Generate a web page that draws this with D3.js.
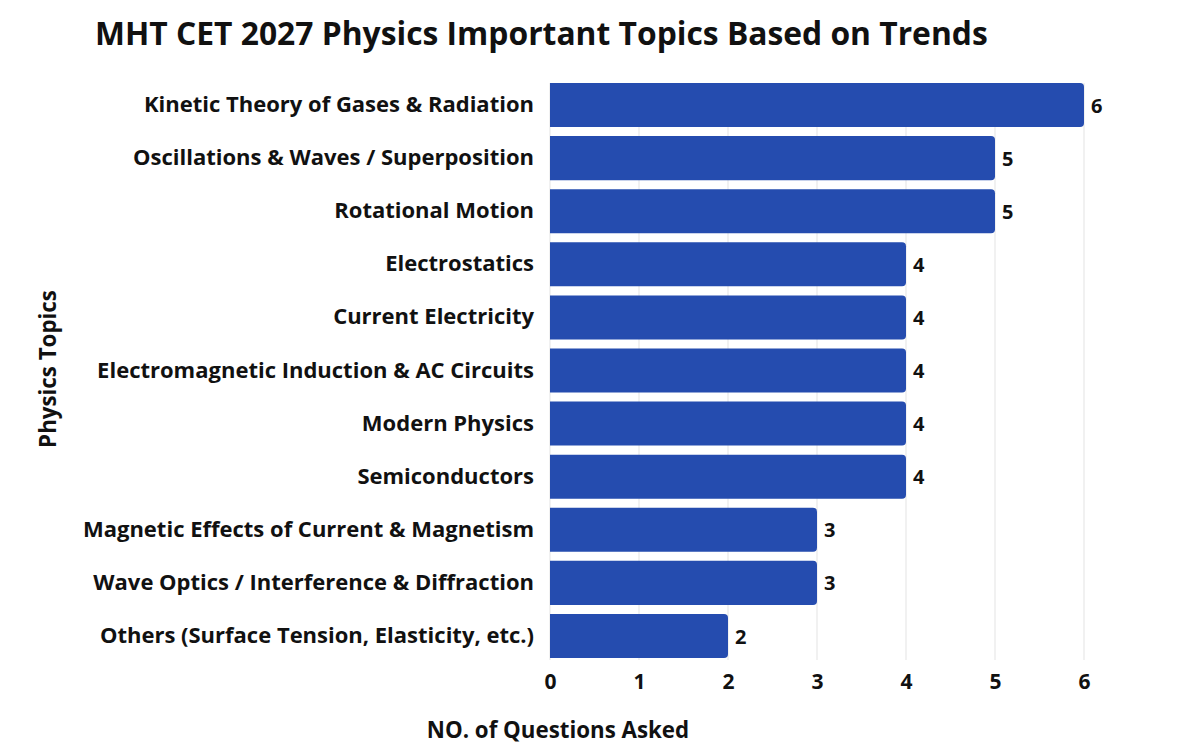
<!DOCTYPE html>
<html>
<head>
<meta charset="utf-8">
<script src="https://cdn.jsdelivr.net/npm/d3@7"></script>
<style>
  body { margin: 0; background: #fff; }
  text { font-family: "Open Sans", "Noto Sans", sans-serif; font-weight: 700; fill: #111; }
</style>
</head>
<body>
<svg id="chart"></svg>
<script>
var topics = [
  "Kinetic Theory of Gases & Radiation",
  "Oscillations & Waves / Superposition",
  "Rotational Motion",
  "Electrostatics",
  "Current Electricity",
  "Electromagnetic Induction & AC Circuits",
  "Modern Physics",
  "Semiconductors",
  "Magnetic Effects of Current & Magnetism",
  "Wave Optics / Interference & Diffraction",
  "Others (Surface Tension, Elasticity, etc.)"
];
var questions = [6, 5, 5, 4, 4, 4, 4, 4, 3, 3, 2];
var xTicks = [0, 1, 2, 3, 4, 5, 6];

var screen = {width: 1200, height: 756};
var svg = d3.select("#chart")
    .attr("width", screen.width)
    .attr("height", screen.height);

var xScale = d3.scaleLinear()
    .domain([0, 6])
    .range([550, 1084]);

var yScale = d3.scaleBand()
    .domain(topics)
    .range([78.5, 662.5])
    .paddingInner(0.17)
    .paddingOuter(0.085);

// title
svg.append("text")
    .attr("x", 95)
    .attr("y", 45)
    .style("font-size", "31.8px")
    .text("MHT CET 2027 Physics Important Topics Based on Trends");

// grid lines
svg.append("g")
    .selectAll("line")
    .data(xTicks)
    .enter()
    .append("line")
    .attr("x1", function(d) { return xScale(d); })
    .attr("x2", function(d) { return xScale(d); })
    .attr("y1", 83)
    .attr("y2", 660)
    .attr("stroke", "#e3e3e3")
    .attr("stroke-width", 1);

// bars, rounded on the right end only
var barPath = function(d, i) {
    var x0 = xScale(0), x1 = xScale(d);
    var y0 = yScale(topics[i]), h = yScale.bandwidth(), r = 4;
    return "M" + x0 + "," + y0 +
        "H" + (x1 - r) +
        "Q" + x1 + "," + y0 + " " + x1 + "," + (y0 + r) +
        "V" + (y0 + h - r) +
        "Q" + x1 + "," + (y0 + h) + " " + (x1 - r) + "," + (y0 + h) +
        "H" + x0 + "Z";
};

svg.append("g")
    .selectAll("path")
    .data(questions)
    .enter()
    .append("path")
    .attr("d", barPath)
    .attr("fill", "#254caf");

// value labels
svg.append("g")
    .selectAll("text")
    .data(questions)
    .enter()
    .append("text")
    .attr("x", function(d) { return xScale(d) + 7; })
    .attr("y", function(d, i) { return yScale(topics[i]) + yScale.bandwidth() / 2; })
    .attr("dy", "0.38em")
    .style("font-size", "20px")
    .text(function(d) { return d; });

// category labels
var yAxis = d3.axisLeft(yScale).tickSize(0).tickPadding(16);
var yg = svg.append("g")
    .attr("transform", "translate(550,0)")
    .call(yAxis);
yg.select(".domain").remove();
yg.selectAll("text")
    .style("font-size", "22px")
    .style("fill", "#111")
    .attr("font-family", null);

// x axis
var xAxis = d3.axisBottom(xScale).tickValues(xTicks).tickFormat(d3.format("d"))
    .tickSize(0).tickPadding(12);
var xg = svg.append("g")
    .attr("transform", "translate(0,662)")
    .call(xAxis);
xg.select(".domain").remove();
xg.selectAll("text")
    .style("font-size", "21px")
    .style("fill", "#111")
    .attr("font-family", null);

// axis titles
svg.append("text")
    .attr("x", 558)
    .attr("y", 738)
    .attr("text-anchor", "middle")
    .style("font-size", "22.3px")
    .text("NO. of Questions Asked");

svg.append("text")
    .attr("transform", "translate(56,369) rotate(-90)")
    .attr("text-anchor", "middle")
    .style("font-size", "22.3px")
    .text("Physics Topics");
</script>
</body>
</html>
